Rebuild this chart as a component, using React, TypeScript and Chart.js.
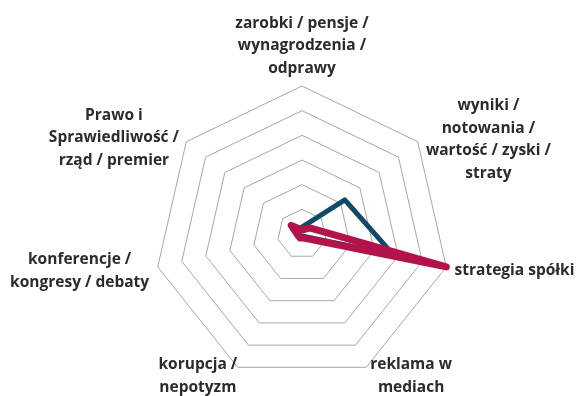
import React, { useEffect, useRef } from "react";
import { Chart, registerables } from "chart.js";

Chart.register(...registerables);

const categories: string[][] = [
  ["zarobki / pensje /", "wynagrodzenia /", "odprawy"],
  ["wyniki /", "notowania /", "wartość / zyski /", "straty"],
  ["strategia spółki"],
  ["reklama w", "mediach"],
  ["korupcja /", "nepotyzm"],
  ["konferencje /", "kongresy / debaty"],
  ["Prawo i", "Sprawiedliwość /", "rząd / premier"],
];

const seriesBlue: number[] = [2.8, 22.2, 38, 1, 1, 1, 2.5];
const seriesPink: number[] = [1.6, 4, 60, 1.8, 1.8, 1.8, 5.6];

const scaleMax = 60;
const scaleStep = 10;

const FONT = "bold 15.5px 'Open Sans'";
const LINE_H = 22.5;
const TEXT_COLOR = "#2b2b2b";

const LABEL_ALIGN = [
  { h: "center", v: "bottom", dx: 0, dy: -6.5 },
  { h: "left", v: "middle", dx: 8.2, dy: -2 },
  { h: "left", v: "middle", dx: 8.3, dy: 4 },
  { h: "left", v: "top", dx: 4, dy: -14 },
  { h: "right", v: "top", dx: -0.6, dy: -14 },
  { h: "right", v: "middle", dx: -8.6, dy: 4 },
  { h: "right", v: "middle", dx: -7.3, dy: -3.7 },
];

const labelPlugin = {
  id: "customPointLabels",
  afterDraw(chart: any) {
    const scale = chart.scales.r;
    const ctx = chart.ctx as CanvasRenderingContext2D;
    ctx.save();
    ctx.font = FONT;
    ctx.fillStyle = TEXT_COLOR;
    ctx.textAlign = "center";
    ctx.textBaseline = "middle";
    categories.forEach((lines, i) => {
      const p = scale.getPointPosition(i, scale.drawingArea);
      const a = LABEL_ALIGN[i];
      const w = Math.max(...lines.map((l) => ctx.measureText(l).width));
      const h = lines.length * LINE_H;
      let left: number;
      if (a.h === "center") left = p.x - w / 2 + a.dx;
      else if (a.h === "left") left = p.x + a.dx;
      else left = p.x - w + a.dx;
      let top: number;
      if (a.v === "bottom") top = p.y - h + a.dy;
      else if (a.v === "middle") top = p.y - h / 2 + a.dy;
      else top = p.y + a.dy;
      lines.forEach((l, j) => {
        ctx.fillText(l, left + w / 2, top + LINE_H * (j + 0.5));
      });
    });
    ctx.restore();
  },
};

export default function App() {
  const ref = useRef<HTMLCanvasElement>(null);
  useEffect(() => {
    if (!ref.current) return;
    const chart = new Chart(ref.current, {
      type: "radar",
      data: {
        labels: categories,
        datasets: [
          {
            label: "B",
            data: seriesPink,
            borderColor: "#b3124a",
            backgroundColor: "transparent",
            borderWidth: 7,
            pointRadius: 0,
            fill: false,
            borderJoinStyle: "round",
            borderCapStyle: "round",
            order: 0,
          },
          {
            label: "A",
            data: seriesBlue,
            borderColor: "#0f4a69",
            backgroundColor: "transparent",
            borderWidth: 5,
            pointRadius: 0,
            fill: false,
            borderJoinStyle: "round",
            borderCapStyle: "round",
            order: 1,
          },
        ],
      },
      options: {
        responsive: false,
        animation: false,
        layout: { padding: { left: 152, right: 126, top: 86, bottom: 13 } },
        plugins: {
          legend: { display: false },
          tooltip: { enabled: false },
        },
        scales: {
          r: {
            min: 0,
            max: scaleMax,
            ticks: { display: false, stepSize: scaleStep },
            pointLabels: { display: false },
            angleLines: { display: false },
            grid: { color: "#a6a6a6", lineWidth: 1 },
          },
        },
      },
      plugins: [labelPlugin],
    });
    return () => chart.destroy();
  }, []);
  return (
    <div style={{ position: "fixed", left: 0, top: 0, width: 578, height: 396, background: "#fff" }}>
      <canvas ref={ref} width={578} height={396} style={{ display: "block" }} />
    </div>
  );
}
